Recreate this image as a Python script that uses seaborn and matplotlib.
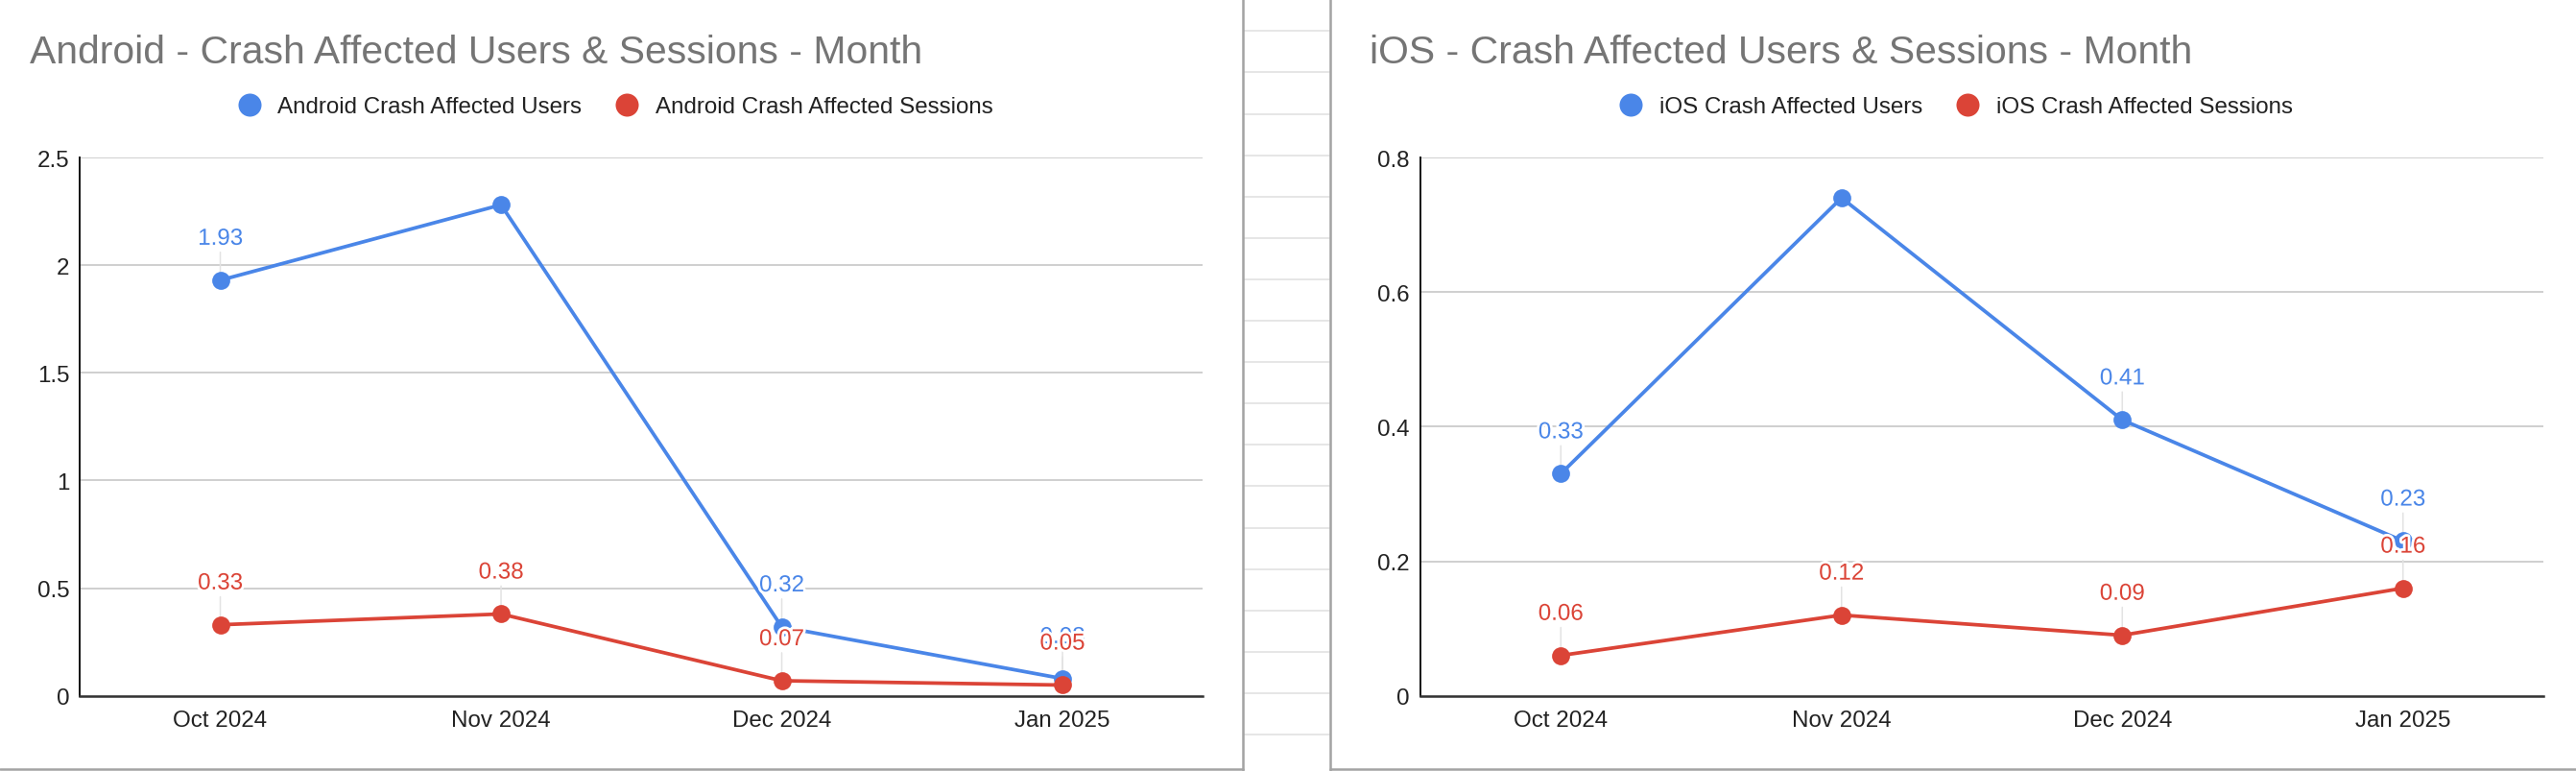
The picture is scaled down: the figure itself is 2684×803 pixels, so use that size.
import numpy as np
import pandas as pd
import matplotlib
matplotlib.use("Agg")
import matplotlib.pyplot as plt
import matplotlib.patheffects as pe
from matplotlib.lines import Line2D
import seaborn as sns

# ---------------- data ----------------
months = ["Oct 2024", "Nov 2024", "Dec 2024", "Jan 2025"]
android_users = [1.93, 2.28, 0.32, 0.08]
android_sessions = [0.33, 0.38, 0.07, 0.05]
ios_users = [0.33, 0.74, 0.41, 0.23]
ios_sessions = [0.06, 0.12, 0.09, 0.16]

android_names = ["Android Crash Affected Users", "Android Crash Affected Sessions"]
ios_names = ["iOS Crash Affected Users", "iOS Crash Affected Sessions"]
titles = ["Android - Crash Affected Users & Sessions - Month",
          "iOS - Crash Affected Users & Sessions - Month"]
android_yticks = [0, 0.5, 1, 1.5, 2, 2.5]
ios_yticks = [0, 0.2, 0.4, 0.6, 0.8]

BLUE = "#4a86e8"
RED = "#db4437"

sns.set_theme(style="white")
plt.rcParams["font.family"] = ["Liberation Sans", "DejaVu Sans"]

W, H = 2684, 804
fig = plt.figure(figsize=(W / 100, H / 100), dpi=100)
fig.patch.set_facecolor("white")

FS = 17.4
aura = [pe.withStroke(linewidth=4, foreground="white")]


def panel(ax_rect, names, s1, s2, yticks, title, title_x, legend_cx):
    ax = fig.add_axes(ax_rect)
    df = pd.DataFrame({
        "month": months * 2,
        "value": list(s1) + list(s2),
        "series": [names[0]] * len(months) + [names[1]] * len(months),
    })
    pal = {names[0]: BLUE, names[1]: RED}
    sns.lineplot(data=df, x="month", y="value", hue="series", palette=pal,
                 marker="o", markersize=13.5, markeredgewidth=0, linewidth=2.7,
                 sort=False, legend=False, ax=ax, zorder=3)
    ymax = yticks[-1]
    ax.set_xlim(-0.5, len(months) - 0.5)
    ax.set_ylim(0, ymax)
    ax.set_yticks(yticks)
    ax.set_yticklabels([f"{t:g}" for t in yticks])
    ax.set_xlabel("")
    ax.set_ylabel("")
    ax.yaxis.grid(True, color="#cccccc", linewidth=1.3)
    ax.xaxis.grid(False)
    ax.set_axisbelow(True)
    for sp in ("top", "right"):
        ax.spines[sp].set_visible(False)
    ax.spines["left"].set_color("#111111")
    ax.spines["left"].set_linewidth(1.4)
    ax.spines["bottom"].set_color("#333333")
    ax.spines["bottom"].set_linewidth(1.8)
    ax.spines["bottom"].set_zorder(4)
    ax.tick_params(axis="y", length=0, pad=8, labelsize=FS, labelcolor="#222222")
    ax.tick_params(axis="x", length=0, pad=10, labelsize=FS, labelcolor="#222222")

    # data labels with leader lines
    for k, (series, col) in enumerate(((s1, BLUE), (s2, RED))):
        for i, v in enumerate(series):
            if v / ymax > 0.85:
                continue  # label would fall outside the plot area
            ax.annotate("", xy=(i, v), xytext=(0, 21), textcoords="offset points",
                        arrowprops=dict(arrowstyle="-", color="#e3e3e3", lw=1.1,
                                        shrinkA=0, shrinkB=0), zorder=1)
            ax.annotate(f"{v:.2f}", xy=(i, v), xytext=(0, 26.6),
                        textcoords="offset points", ha="center", va="baseline",
                        color=col, fontsize=FS, zorder=5 + k, path_effects=aura)

    fig.text(title_x, 1 - 66 / H, title, fontsize=29.4, color="#757575",
             ha="left", va="baseline")
    handles = [Line2D([], [], marker="o", linestyle="", markersize=17.3,
                      markeredgewidth=0, color=c) for c in (BLUE, RED)]
    fig.legend(handles, names, loc="center", bbox_to_anchor=(legend_cx, 1 - 112.5 / H),
               ncol=2, frameon=False, fontsize=FS, handlelength=1.0,
               handletextpad=0.72, columnspacing=1.45, labelcolor="#222222",
               borderaxespad=0, borderpad=0)
    return ax


bottom = (H - 725.7) / H
height = 560.7 / H
width = 1170 / W

panel([83.3 / W, bottom, width, height], android_names, android_users,
      android_sessions, android_yticks, titles[0], 31 / W, 641 / W)
panel([1480 / W, bottom, width, height], ios_names, ios_users,
      ios_sessions, ios_yticks, titles[1], 1427 / W, 2038 / W)

# spreadsheet strip between the two chart panels
for y in np.arange(33.3, H, 43.1):
    fig.add_artist(Line2D([1296 / W, 1385 / W], [1 - y / H, 1 - y / H],
                          color="#e2e2e2", linewidth=1.2))
# panel borders
border = dict(color="#a3a3a3", linewidth=1.8)
fig.add_artist(Line2D([1295 / W, 1295 / W], [0, 1], **border))
fig.add_artist(Line2D([1386 / W, 1386 / W], [0, 1], **border))
fig.add_artist(Line2D([0, 1295 / W], [1 - 802 / H, 1 - 802 / H], **border))
fig.add_artist(Line2D([1386 / W, 1], [1 - 802 / H, 1 - 802 / H], **border))

fig.savefig("out.png", dpi=100, facecolor="white")
